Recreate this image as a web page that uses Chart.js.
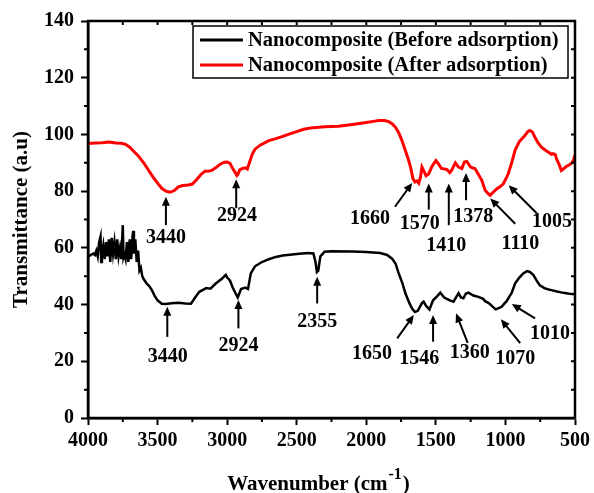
<!DOCTYPE html>
<html>
<head>
<meta charset="utf-8">
<script src="https://cdn.jsdelivr.net/npm/chart.js@4.4.0/dist/chart.umd.min.js"></script>
<style>
html, body { margin: 0; padding: 0; background: #fff; }
#wrap { width: 594px; height: 493px; }
</style>
</head>
<body>
<div id="wrap"><canvas id="ftirChart" width="594" height="493"></canvas></div>
<script>
// FTIR spectra, wavenumber (cm-1) vs transmittance
const beforeWn = [4000,3990,3980,3970,3960,3950,3940,3930,3920,3910,3905,3900,3890,3880,3870,3860,3850,3840,3830,3820,3810,3800,3790,3780,3770,3760,3750,3745,3740,3730,3720,3710,3700,3690,3680,3675,3670,3660,3650,3640,3630,3620,3610,3600,3580,3560,3540,3520,3500,3470,3440,3400,3350,3300,3260,3230,3200,3150,3120,3080,3040,3010,3000,2980,2960,2940,2924,2900,2870,2850,2830,2800,2750,2700,2650,2600,2500,2420,2380,2365,2355,2345,2330,2300,2250,2100,2000,1900,1850,1815,1790,1767,1740,1719,1690,1671,1650,1630,1600,1588,1570,1546,1520,1490,1468,1440,1421,1400,1373,1350,1337,1320,1302,1285,1266,1230,1194,1160,1146,1120,1090,1070,1045,1027,1005,991,970,956,930,900,872,845,824,800,788,770,753,720,690,669,630,600,573,540,500];
const beforeT = [57,57.2,57.5,57.8,58,57.5,59,57,62,64,55,58,61,56,62,57,63,55,63.5,58,62,56,63,57,60,56,68,57,58,56,62,55,63,56,64,66,58,63,55,59,52,53,50,49,47.5,46.5,45,43,41.5,40.3,40.2,40.5,40.6,40.4,40.3,42.5,44.5,45.8,45.6,47.5,49,50.5,49.5,48.5,46,44,42.5,45.5,46,45.5,51,53.5,55,56,56.8,57.3,57.8,58.2,58,55,51.5,52,57,58.6,58.8,58.7,58.5,58.2,57.5,56.2,54.5,51,47.5,44,40.5,38.6,37.4,37.8,40.5,41,39.5,38.3,41.5,43,44.2,42.5,42,41.5,41,43,44,42.5,42.2,43.8,44.2,43.2,42.7,42,41.2,40.5,39.2,38.3,38.8,39.2,40.5,41.2,43,44,47.5,49.5,51,51.8,51.5,50.5,49.5,48,46.8,45.8,45.3,45.1,44.6,44.3,44.1,43.8,43.6];

const afterWn = [4000,3950,3900,3850,3800,3760,3730,3700,3670,3640,3600,3560,3530,3500,3470,3440,3410,3380,3350,3320,3280,3250,3220,3190,3160,3130,3110,3080,3050,3020,3000,2980,2960,2945,2930,2924,2910,2890,2870,2855,2840,2820,2800,2760,2700,2650,2600,2550,2500,2450,2400,2300,2200,2100,2000,1950,1910,1870,1838,1815,1790,1767,1745,1731,1710,1695,1680,1665,1650,1635,1623,1610,1600,1585,1570,1552,1530,1500,1480,1460,1445,1420,1400,1385,1360,1337,1313,1295,1278,1250,1218,1195,1170,1146,1125,1110,1090,1063,1040,1015,990,979,955,931,900,860,840,824,805,788,765,741,715,693,670,657,640,633,615,598,580,560,540,520,510,502];
const afterT = [96.8,97,97.1,97.3,97,96.9,96.5,95.5,94,92.5,90,87,84.8,82.8,81,80,79.6,80.2,81.5,82,82.2,82.5,84,85.8,87,87.1,87.3,88.3,89.5,90.2,90.3,89.8,88,86.8,85.5,85.8,87.5,88,88.2,87.8,90,93,94.8,96.3,97.8,98.5,99.3,100.2,101,101.8,102.3,102.7,102.9,103.5,104.2,104.6,104.9,104.9,104.5,103.8,102.5,100.6,98,96,93,90.8,88,84.5,83.2,83.6,82.8,85,88.5,87,85.4,86,88.5,90.8,89.5,88,87.9,87.6,86.5,87.5,90,88.5,88,90.3,90.5,88.5,87.9,86,83.8,80.3,79.2,78.5,79.5,80.8,81.5,82.6,85,86.2,90,94.4,97.5,99.6,101,101.4,100.8,99,97,95.5,94.5,93.8,93,93.2,92.8,91.4,89.5,87.3,88,88.8,89.3,90,91,92.6];

const seriesNames = ['Nanocomposite (Before adsorption)', 'Nanocomposite (After adsorption)'];
const seriesColors = ['#000000', '#ff0000'];

// peak labels: arrow tip, arrow tail and label centre, all in (wavenumber, transmittance)
const peakMarks = [
  { text: '3440', tip: [3440, 78],   tail: [3440, 68],   label: [3440, 63.4] },
  { text: '2924', tip: [2935, 84.2], tail: [2935, 74],   label: [2930, 71.2] },
  { text: '1660', tip: [1670, 82.9], tail: [1794, 74.5], label: [1973, 70.4] },
  { text: '1570', tip: [1551, 82.7], tail: [1551, 73.5], label: [1615, 68.4] },
  { text: '1410', tip: [1407, 82.7], tail: [1407, 68],   label: [1425, 60.6] },
  { text: '1378', tip: [1283, 86.4], tail: [1283, 76.8], label: [1232, 70.9] },
  { text: '1110', tip: [1109, 77.4], tail: [930, 68.5],  label: [892, 61.3] },
  { text: '1005', tip: [977, 82.1],  tail: [775, 72.2],  label: [666, 69.2] },
  { text: '3440', tip: [3430, 39.2], tail: [3430, 28.6], label: [3427, 21.5] },
  { text: '2924', tip: [2919, 41.6], tail: [2919, 31.6], label: [2919, 25.4] },
  { text: '2355', tip: [2353, 49.8], tail: [2353, 40.4], label: [2353, 33.8] },
  { text: '1650', tip: [1658, 36.3], tail: [1778, 28.1], label: [1959, 22.8] },
  { text: '1546', tip: [1520, 36.3], tail: [1520, 26.9], label: [1620, 21] },
  { text: '1360', tip: [1355, 36.9], tail: [1271, 26.5], label: [1257, 22.9] },
  { text: '1070', tip: [1033, 34.8], tail: [894, 26.4],  label: [930, 21] },
  { text: '1010', tip: [954, 40.2],  tail: [787, 35.1],  label: [679, 29.6] }
];

const FONT = 'Liberation Serif';
const boldFont = size => 'bold ' + size + 'px "' + FONT + '"';

function toPoints(xs, ys) {
  return xs.map((x, i) => ({ x: x, y: ys[i] }));
}

function drawArrow(ctx, x1, y1, x2, y2) {
  const ang = Math.atan2(y2 - y1, x2 - x1);
  const head = 9, half = 4;
  ctx.beginPath();
  ctx.moveTo(x1, y1);
  ctx.lineTo(x2 - Math.cos(ang) * head * 0.8, y2 - Math.sin(ang) * head * 0.8);
  ctx.stroke();
  ctx.beginPath();
  ctx.moveTo(x2, y2);
  ctx.lineTo(x2 - Math.cos(ang) * head - Math.sin(ang) * half, y2 - Math.sin(ang) * head + Math.cos(ang) * half);
  ctx.lineTo(x2 - Math.cos(ang) * head + Math.sin(ang) * half, y2 - Math.sin(ang) * head - Math.cos(ang) * half);
  ctx.closePath();
  ctx.fill();
}

// frame, minor ticks, legend, peak arrows and x title
const decorPlugin = {
  id: 'decor',
  afterDraw(chart) {
    const ctx = chart.ctx;
    const area = chart.chartArea;
    const xs = chart.scales.x, ys = chart.scales.y;
    ctx.save();
    ctx.strokeStyle = '#000';
    ctx.fillStyle = '#000';

    // box round the plot
    ctx.lineWidth = 2.5;
    ctx.strokeRect(area.left, area.top, area.right - area.left, area.bottom - area.top);

    // minor ticks outside, small ticks inside on top and right
    ctx.lineWidth = 2;
    ctx.beginPath();
    for (let w = 750; w < 4000; w += 500) {
      const px = xs.getPixelForValue(w);
      ctx.moveTo(px, area.bottom);
      ctx.lineTo(px, area.bottom + 4);
    }
    for (let w = 750; w < 4000; w += 250) {
      const px = xs.getPixelForValue(w);
      ctx.moveTo(px, area.top);
      ctx.lineTo(px, area.top + 4);
    }
    for (let t = 10; t < 140; t += 20) {
      const py = ys.getPixelForValue(t);
      ctx.moveTo(area.left, py);
      ctx.lineTo(area.left - 4, py);
    }
    for (let t = 10; t < 140; t += 10) {
      const py = ys.getPixelForValue(t);
      ctx.moveTo(area.right, py);
      ctx.lineTo(area.right - 4, py);
    }
    ctx.stroke();

    // peak arrows
    ctx.lineWidth = 2;
    ctx.font = boldFont(20);
    ctx.textAlign = 'center';
    ctx.textBaseline = 'middle';
    peakMarks.forEach(m => {
      drawArrow(ctx,
        xs.getPixelForValue(m.tail[0]), ys.getPixelForValue(m.tail[1]),
        xs.getPixelForValue(m.tip[0]), ys.getPixelForValue(m.tip[1]));
      ctx.fillText(m.text, xs.getPixelForValue(m.label[0]), ys.getPixelForValue(m.label[1]));
    });

    // legend box
    const lx = 193, ly = 26, lw = 375, lh = 52;
    ctx.fillStyle = '#fff';
    ctx.fillRect(lx, ly, lw, lh);
    ctx.lineWidth = 1.5;
    ctx.strokeStyle = '#000';
    ctx.strokeRect(lx, ly, lw, lh);
    ctx.font = boldFont(20.5);
    ctx.textAlign = 'left';
    seriesNames.forEach((name, i) => {
      const y = ly + 14 + i * 25;
      ctx.strokeStyle = seriesColors[i];
      ctx.lineWidth = 3;
      ctx.beginPath();
      ctx.moveTo(lx + 7, y);
      ctx.lineTo(lx + 50, y);
      ctx.stroke();
      ctx.fillStyle = '#000';
      ctx.fillText(name, lx + 55, y + 1);
    });

    // x axis title with superscript
    const main = 'Wavenumber (cm';
    const sup = '-1';
    const tail = ')';
    ctx.font = boldFont(21);
    const wMain = ctx.measureText(main).width;
    const wTail = ctx.measureText(tail).width;
    ctx.font = boldFont(16);
    const wSup = ctx.measureText(sup).width;
    const cx = (area.left + area.right) / 2 - 14;
    let x0 = cx - (wMain + wSup + wTail) / 2;
    const baseY = 490;
    ctx.textBaseline = 'alphabetic';
    ctx.fillStyle = '#000';
    ctx.font = boldFont(21);
    ctx.fillText(main, x0, baseY);
    ctx.font = boldFont(16);
    ctx.fillText(sup, x0 + wMain + 1, baseY - 11);
    ctx.font = boldFont(21);
    ctx.fillText(tail, x0 + wMain + wSup + 2, baseY);
    ctx.restore();
  }
};

const ctx = document.getElementById('ftirChart').getContext('2d');
const ftirChart = new Chart(ctx, {
  type: 'line',
  data: {
    datasets: [
      {
        label: seriesNames[0],
        data: toPoints(beforeWn, beforeT),
        borderColor: seriesColors[0],
        borderWidth: 2.5,
        pointRadius: 0,
        tension: 0,
        fill: false
      },
      {
        label: seriesNames[1],
        data: toPoints(afterWn, afterT),
        borderColor: seriesColors[1],
        borderWidth: 3,
        pointRadius: 0,
        tension: 0,
        fill: false
      }
    ]
  },
  options: {
    responsive: false,
    animation: false,
    layout: { padding: { top: 21, right: 17, left: 0, bottom: 0 } },
    plugins: {
      legend: { display: false },
      tooltip: { enabled: false }
    },
    scales: {
      x: {
        type: 'linear',
        reverse: true,
        min: 500,
        max: 4000,
        ticks: {
          stepSize: 500,
          color: '#000',
          padding: 4,
          maxRotation: 0,
          callback: v => String(v),
          font: { family: FONT, size: 20, weight: 'bold' }
        },
        grid: { drawOnChartArea: false, tickLength: 7, tickWidth: 2, color: '#000' },
        border: { color: '#000', width: 2.5 },
        afterFit(scale) { scale.height = 75; }
      },
      y: {
        min: 0,
        max: 140,
        ticks: {
          stepSize: 20,
          color: '#000',
          padding: 7,
          callback: v => String(v),
          font: { family: FONT, size: 20, weight: 'bold' }
        },
        grid: { drawOnChartArea: false, tickLength: 7, tickWidth: 2, color: '#000' },
        border: { color: '#000', width: 2.5 },
        title: {
          display: true,
          text: 'Transmittance (a.u)',
          color: '#000',
          padding: { top: 9, bottom: 0 },
          font: { family: FONT, size: 21, weight: 'bold' }
        },
        afterFit(scale) { scale.width = 88; }
      }
    }
  },
  plugins: [decorPlugin]
});
</script>
</body>
</html>
